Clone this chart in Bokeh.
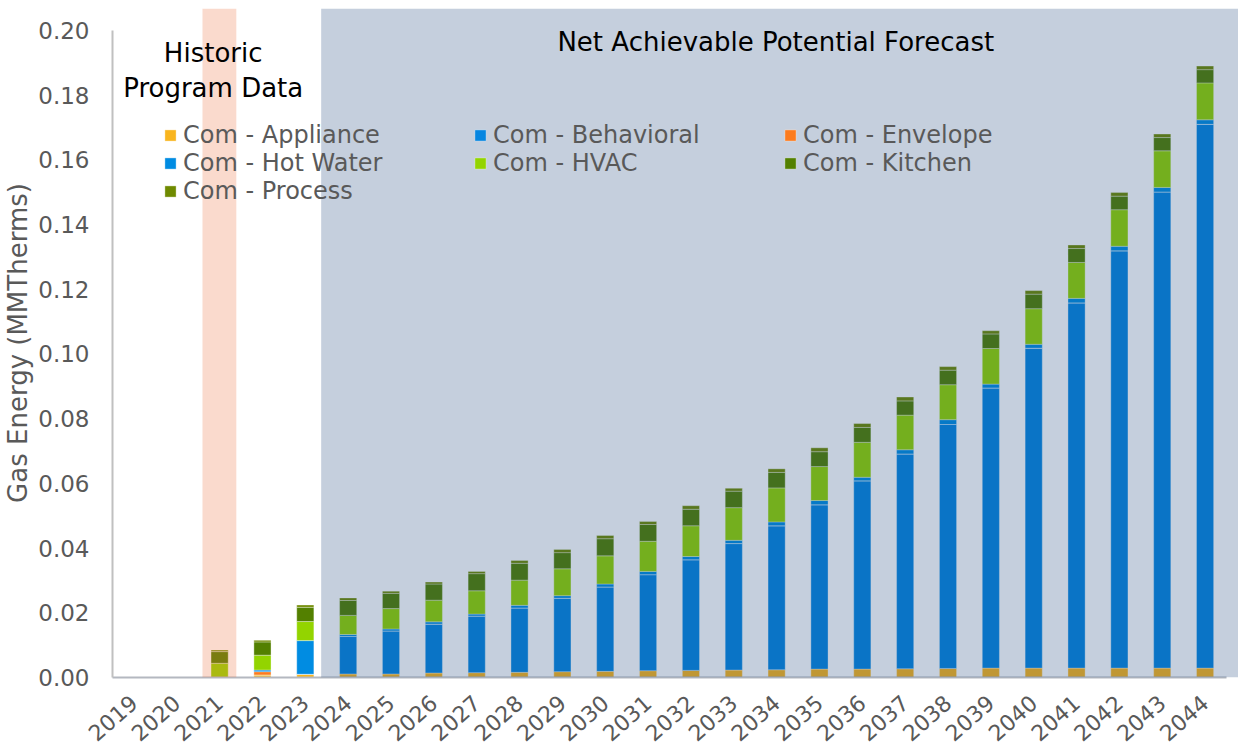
from bokeh.plotting import figure
from bokeh.models import (Range1d, FixedTicker, PrintfTickFormatter, BoxAnnotation,
                          Label, Legend, LegendItem, ColumnDataSource)
from bokeh.embed import file_html
from bokeh.resources import INLINE

# ---------------- data ----------------
years = [str(y) for y in range(2019, 2045)]

appliance = [0, 0, 0, 0.0008, 0.0010, 0.0011, 0.0011, 0.0014, 0.0015, 0.0016, 0.0018, 0.0019, 0.0021,
             0.0022, 0.0023, 0.0024, 0.0026, 0.0026, 0.0027, 0.0028, 0.0029, 0.0029, 0.0029, 0.0029,
             0.0029, 0.0029]
behavioral = [0, 0, 0, 0, 0, 0.0116, 0.0133, 0.0151, 0.0175, 0.0199, 0.0227, 0.0261, 0.0297,
              0.0342, 0.0391, 0.0445, 0.0508, 0.0582, 0.0664, 0.0754, 0.0866, 0.0989, 0.1129,
              0.1290, 0.1472, 0.1681]
envelope = [0, 0, 0, 0.0010, 0, 0, 0, 0, 0, 0, 0, 0, 0, 0, 0, 0, 0, 0, 0, 0, 0, 0, 0, 0, 0, 0]
hot_water = [0, 0, 0, 0.0005, 0.0104, 0.0006, 0.0006, 0.0007, 0.0006, 0.0008, 0.0008, 0.0009, 0.0010,
             0.0010, 0.0010, 0.0012, 0.0013, 0.0011, 0.0013, 0.0015, 0.0012, 0.0012, 0.0014, 0.0014,
             0.0014, 0.0014]
hvac = [0, 0, 0.0044, 0.0046, 0.0059, 0.0059, 0.0063, 0.0067, 0.0072, 0.0078, 0.0083, 0.0087, 0.0093,
        0.0095, 0.0101, 0.0105, 0.0105, 0.0108, 0.0107, 0.0108, 0.0110, 0.0110, 0.0111, 0.0113,
        0.0113, 0.0114]
kitchen = [0, 0, 0.0036, 0.0041, 0.0044, 0.0046, 0.0047, 0.0050, 0.0053, 0.0052, 0.0050, 0.0053, 0.0052,
           0.0051, 0.0051, 0.0048, 0.0046, 0.0046, 0.0044, 0.0045, 0.0045, 0.0045, 0.0043, 0.0042,
           0.0041, 0.0041]
process = [0, 0, 0.0005, 0.0005, 0.0007, 0.0008, 0.0007, 0.0006, 0.0007, 0.0009, 0.0010, 0.0010, 0.0009,
           0.0011, 0.0009, 0.0011, 0.0012, 0.0012, 0.0012, 0.0011, 0.0010, 0.0011, 0.0011, 0.0011,
           0.0011, 0.0011]

series_keys = ["appliance", "behavioral", "envelope", "hot_water", "hvac", "kitchen", "process"]
series_labels = ["Com - Appliance", "Com - Behavioral", "Com - Envelope", "Com - Hot Water",
                 "Com - HVAC", "Com - Kitchen", "Com - Process"]
series_colors = ["#F9B51E", "#0686E0", "#FC7B1E", "#008CE2", "#93D400", "#538000", "#6F8A00"]

y_ticks = [0.00, 0.02, 0.04, 0.06, 0.08, 0.10, 0.12, 0.14, 0.16, 0.18, 0.20]
historic_year = "2021"
forecast_start_after = "2023"

# ---------------- figure ----------------
FONT = "DejaVu Sans"
GREY = "#595959"

xs = list(range(len(years)))
source = ColumnDataSource(dict(x=xs, appliance=appliance, behavioral=behavioral, envelope=envelope,
                               hot_water=hot_water, hvac=hvac, kitchen=kitchen, process=process))

p = figure(width=1238, height=753, output_backend="svg", toolbar_location=None,
           x_range=Range1d(-0.5, 25.78), y_range=Range1d(0, 0.2068),
           min_border_left=111, min_border_right=0, min_border_top=8, min_border_bottom=76)
p.outline_line_color = None
p.grid.visible = False
p.background_fill_color = "white"
p.border_fill_color = "white"

renderers = p.vbar_stack(series_keys, x="x", width=0.4, source=source,
                         fill_color=series_colors, line_color="white", line_alpha=0.35, line_width=1)

# y axis
ya = p.yaxis[0]
ya.ticker = FixedTicker(ticks=y_ticks)
ya.formatter = PrintfTickFormatter(format="%.2f")
ya.bounds = (y_ticks[0], y_ticks[-1])
ya.axis_line_color = "#C0C0C0"
ya.axis_line_width = 2
ya.major_tick_line_color = None
ya.minor_tick_line_color = None
ya.major_tick_out = 0
ya.minor_tick_out = 0
ya.major_label_text_font = FONT
ya.major_label_text_font_size = "23px"
ya.major_label_text_color = GREY
ya.major_label_standoff = 23
ya.axis_label = "Gas Energy (MMTherms)"
ya.axis_label_text_font = FONT
ya.axis_label_text_font_size = "26px"
ya.axis_label_text_font_style = "normal"
ya.axis_label_text_color = GREY
ya.axis_label_standoff = 2

# x axis
xa = p.xaxis[0]
xa.ticker = FixedTicker(ticks=xs)
xa.major_label_overrides = {i: y for i, y in enumerate(years)}
xa.major_label_orientation = 0.72
xa.bounds = (-0.5, len(years) - 0.5)
xa.axis_line_color = "#B4B8C0"
xa.axis_line_width = 2
xa.major_tick_line_color = None
xa.minor_tick_line_color = None
xa.major_tick_out = 0
xa.minor_tick_out = 0
xa.major_label_text_font = FONT
xa.major_label_text_font_size = "22px"
xa.major_label_text_color = GREY
xa.major_label_standoff = 22

# legend
items = [LegendItem(label=lab, renderers=[r]) for lab, r in zip(series_labels, renderers)]
legend = Legend(items=items, location=(51, 472), orientation="horizontal", ncols=3,
                glyph_width=14, glyph_height=14, label_standoff=6, label_width=290, label_height=28,
                spacing=0, padding=0, margin=0, border_line_color=None, background_fill_alpha=0,
                label_text_font=FONT, label_text_font_size="24px", label_text_color=GREY)
p.add_layout(legend)

# shaded regions (translucent overlays on top of the bars)
hi = years.index(historic_year)
fi = years.index(forecast_start_after)
pink = BoxAnnotation(left=hi - 0.4, right=hi + 0.39, bottom=0, fill_color="#EC713F", fill_alpha=0.26,
                     line_color=None, level="overlay")
blue = BoxAnnotation(left=fi + 0.37, bottom=0, fill_color="#173F77", fill_alpha=0.25,
                     line_color=None, level="overlay")
p.add_layout(pink)
p.add_layout(blue)

# region titles
for txt, xx, yy in [("Historic", hi - 0.15, 0.1931), ("Program Data", hi - 0.15, 0.1823),
                    ("Net Achievable Potential Forecast", 14.98, 0.1965)]:
    p.add_layout(Label(x=xx, y=yy, text=txt, text_align="center", text_baseline="middle",
                       text_font=FONT, text_font_size="26px", text_color="black", level="overlay"))

open("out.html", "w").write(file_html(p, INLINE))
